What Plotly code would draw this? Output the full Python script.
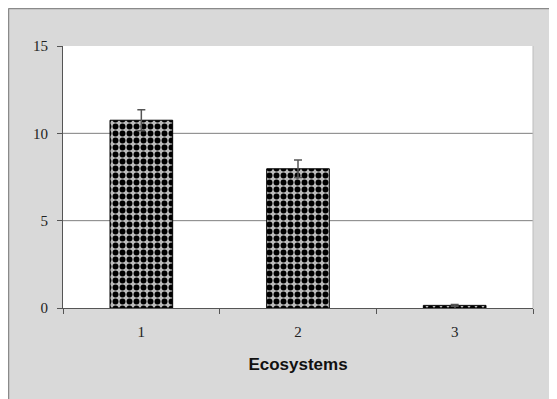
import plotly.graph_objects as go

categories = ["1", "2", "3"]
values = [10.75, 7.97, 0.15]
errors = [0.6, 0.5, 0.05]
y_ticks = [0, 5, 10, 15]
x_title = "Ecosystems"

W, H = 557, 399
L, R, T, B = 55, 32, 38, 99
pw, ph = W - L - R, H - T - B

fig = go.Figure()
fig.add_trace(go.Bar(
    x=categories, y=values, width=0.4,
    marker=dict(
        color="#bcbcbc",
        line=dict(color="black", width=1),
        pattern=dict(shape=".", fgcolor="black", bgcolor="#bcbcbc", fgopacity=1,
                     size=7, solidity=0.55),
    ),
    error_y=dict(type="data", array=errors, visible=True, color="#555555", thickness=1.5, width=4),
))

shapes = []
for g in y_ticks[1:-1]:
    shapes.append(dict(type="line", xref="paper", x0=0, x1=1, yref="y", y0=g, y1=g,
                       line=dict(color="#7f7f7f", width=1), layer="below"))
shapes.append(dict(type="line", xref="paper", yref="paper", x0=1, x1=1, y0=0, y1=1,
                   line=dict(color="#bdbdbd", width=1)))
fx = -(L - 0.5) / pw
fy = 1 + (T - 0.5) / ph
shapes.append(dict(type="line", xref="paper", yref="paper", x0=fx, x1=1 + R / pw, y0=fy, y1=fy,
                   line=dict(color="#8a8a8a", width=1.5)))
shapes.append(dict(type="line", xref="paper", yref="paper", x0=fx, x1=fx, y0=-B / ph, y1=fy,
                   line=dict(color="#8a8a8a", width=1.5)))

fig.update_layout(
    width=W, height=H,
    margin=dict(l=L, r=R, t=T, b=B),
    paper_bgcolor="#d9d9d9",
    plot_bgcolor="white",
    showlegend=False,
    shapes=shapes,
    xaxis=dict(
        type="category",
        showline=True, linecolor="#555555", linewidth=1,
        ticks="outside", tickson="boundaries", ticklen=5, tickcolor="#555555",
        ticklabelstandoff=10,
        tickfont=dict(family="Liberation Serif", size=15, color="#222222"),
        title=dict(text=x_title,
                   font=dict(family="Liberation Sans", size=17, color="#111111", weight="bold"),
                   standoff=19),
        showgrid=False,
    ),
    yaxis=dict(
        range=[0, 15], tickvals=y_ticks,
        showline=True, linecolor="#555555", linewidth=1,
        ticks="outside", ticklen=5, tickcolor="#555555",
        ticklabelstandoff=6,
        tickfont=dict(family="Liberation Serif", size=15, color="#222222"),
        showgrid=False, zeroline=False,
    ),
)

fig.write_html("out.html")
